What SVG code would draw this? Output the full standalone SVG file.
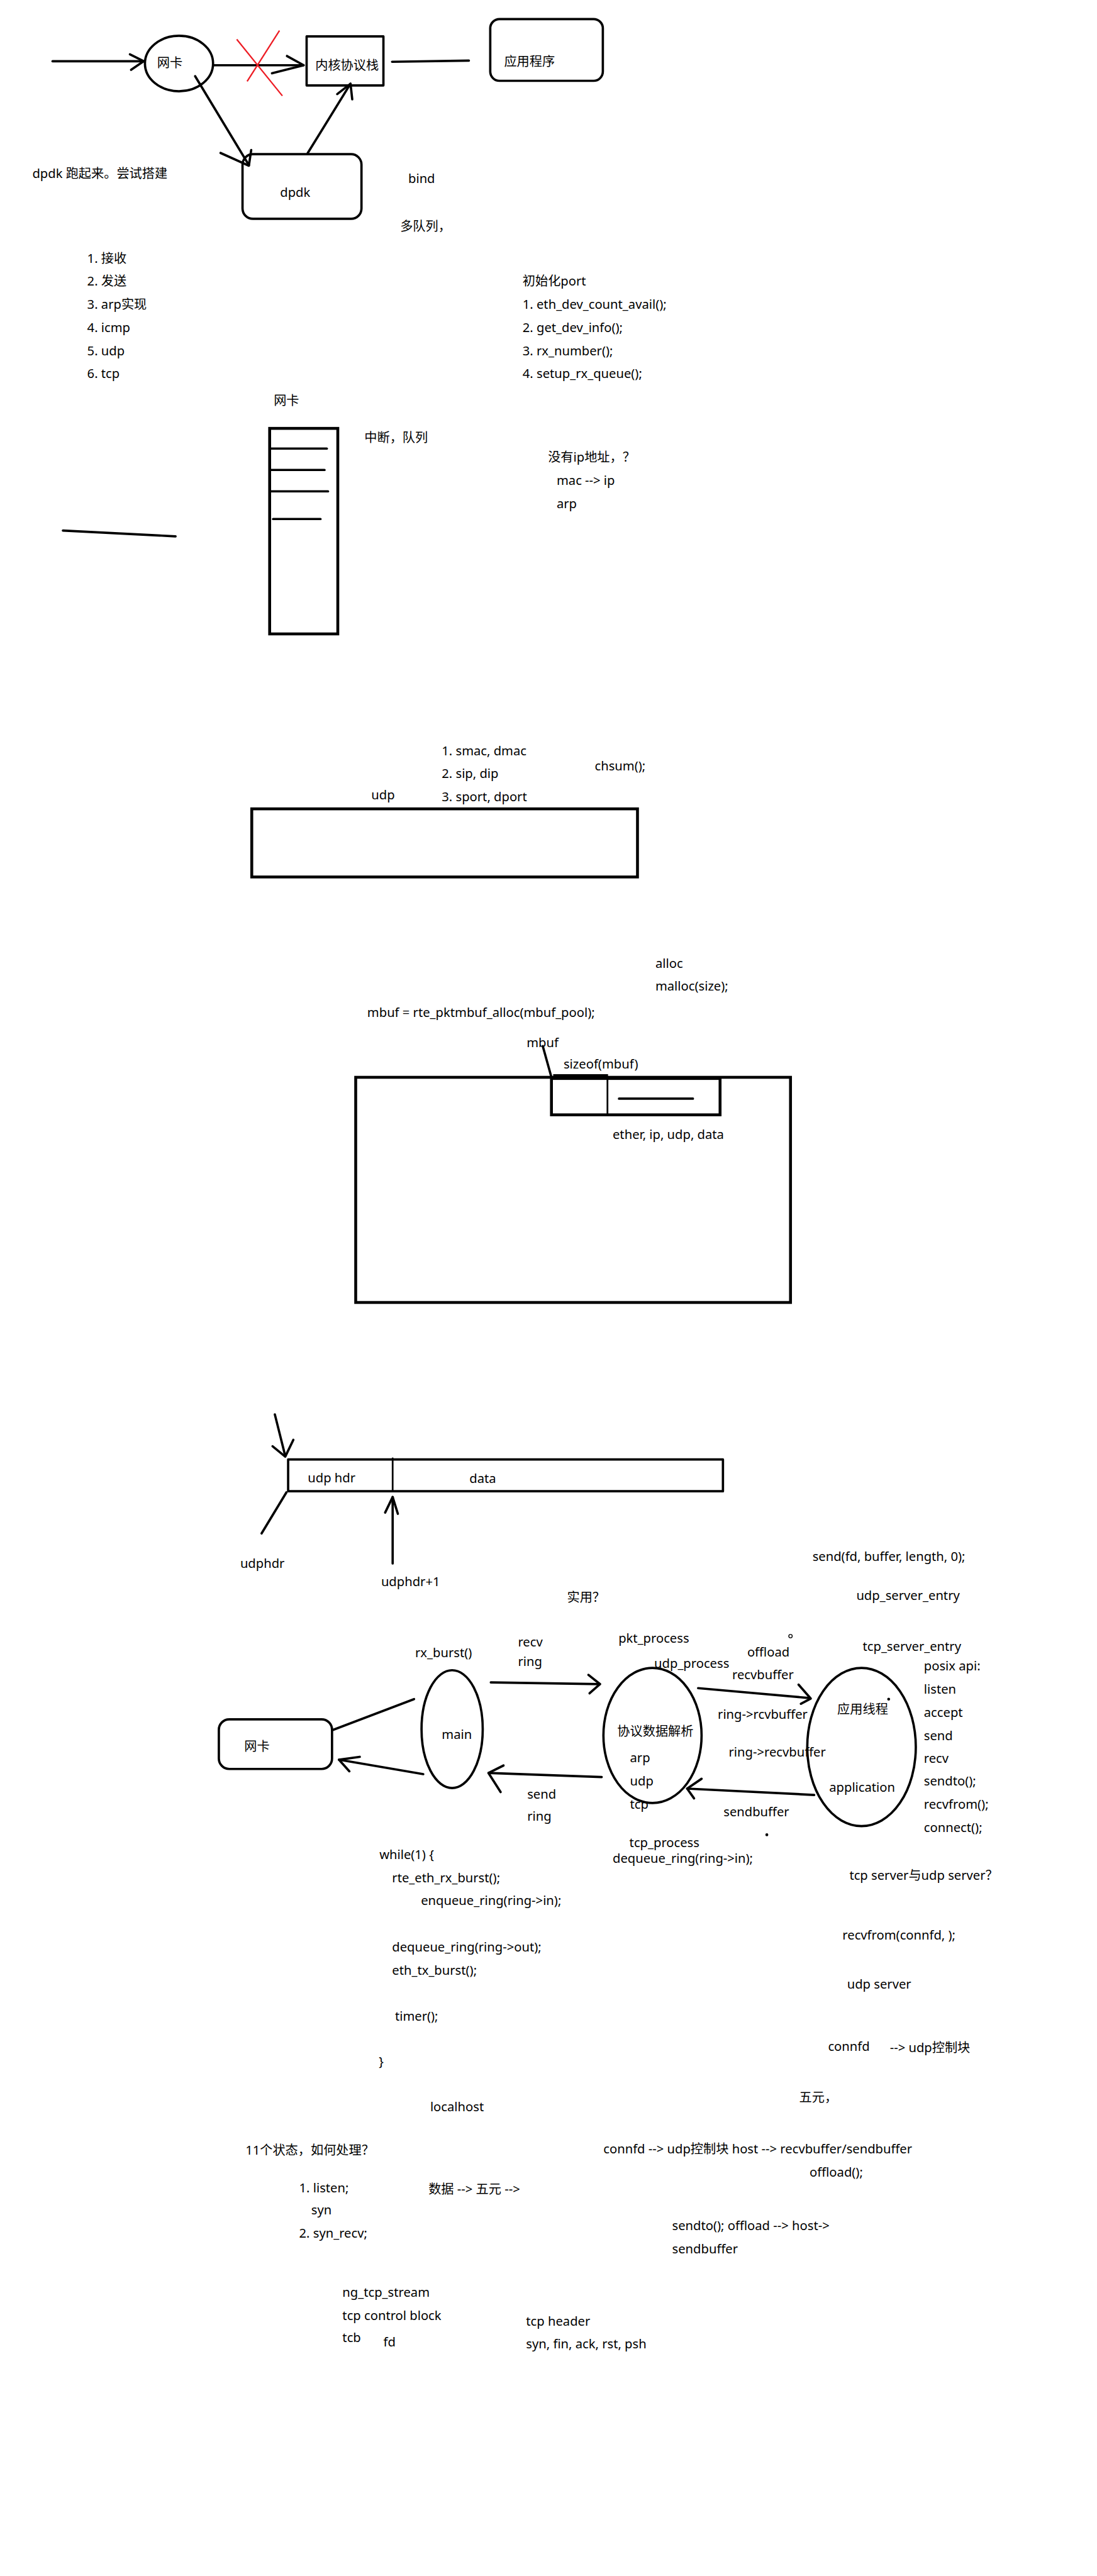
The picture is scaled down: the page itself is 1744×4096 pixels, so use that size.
<svg xmlns="http://www.w3.org/2000/svg" width="1744" height="4096" viewBox="0 0 1744 4096">
<style>
.t{font-family:"Noto Sans","Noto Sans CJK SC",sans-serif;font-size:22px;fill:#000}
.s{fill:none;stroke:#000;stroke-width:4;stroke-linecap:round;stroke-linejoin:round}
.b{fill:none;stroke:#000;stroke-width:5}
.th{fill:none;stroke:#000;stroke-width:3;stroke-linecap:round}
.red{fill:none;stroke:#ed1c24;stroke-width:2.5}
.dot{fill:#000}
</style>
<rect width="1744" height="4096" fill="#fff"/>
<g transform="scale(0.918)">

<!-- ===== Section 1: overview ===== -->
<g id="nic1"><ellipse class="s" cx="310" cy="110" rx="59" ry="48"/><text class="t" x="272" y="117">网卡</text></g>
<g id="kernel-stack"><rect class="s" x="531" y="63" width="133" height="85"/><text class="t" x="546" y="121">内核协议栈</text></g>
<g id="app-program"><rect class="s" x="849" y="33" width="195" height="107" rx="16"/><text class="t" x="873" y="114">应用程序</text></g>
<g id="dpdk"><rect class="s" x="420" y="267" width="206" height="112" rx="18"/><text class="t" x="485" y="341">dpdk</text></g>

<g id="connectors">
  <!-- section 1 -->
  <line class="s" x1="91" y1="106" x2="249" y2="106"/>
  <polyline class="s" points="225,94 249,106 227,121"/>
  <line class="s" x1="370" y1="113" x2="525" y2="113"/>
  <polyline class="s" points="497,97 526,113 471,127"/>
  <line class="s" x1="679" y1="107" x2="812" y2="105"/>
  <line class="s" x1="338" y1="132" x2="431" y2="286"/>
  <polyline class="s" points="382,265 431,287 435,260"/>
  <line class="s" x1="533" y1="265" x2="607" y2="145"/>
  <polyline class="s" points="584,163 607,145 610,172"/>
  <!-- section 6 -->
  <line class="s" x1="476" y1="2450" x2="494" y2="2522"/>
  <polyline class="s" points="472,2505 494,2523 508,2494"/>
  <line class="s" x1="496" y1="2585" x2="453" y2="2656"/>
  <line class="s" x1="680" y1="2708" x2="680" y2="2593"/>
  <polyline class="s" points="667,2620 680,2593 689,2622"/>
  <!-- section 7 -->
  <line class="s" x1="717" y1="2943" x2="575" y2="2997"/>
  <line class="s" x1="733" y1="3073" x2="587" y2="3048"/>
  <polyline class="s" points="623,3043 587,3048 605,3068"/>
  <line class="s" x1="850" y1="2914" x2="1039" y2="2917"/>
  <polyline class="s" points="1019,2901 1039,2917 1021,2933"/>
  <line class="s" x1="1042" y1="3078" x2="846" y2="3071"/>
  <polyline class="s" points="872,3058 846,3071 867,3104"/>
  <line class="s" x1="1209" y1="2924" x2="1400" y2="2941"/>
  <polyline class="s" points="1383,2918 1404,2942 1387,2951"/>
  <line class="s" x1="1410" y1="3109" x2="1190" y2="3098"/>
  <polyline class="s" points="1215,3081 1190,3098 1202,3115"/>
</g>

<g id="red-cross">
  <line class="red" x1="410" y1="68" x2="489" y2="166"/>
  <line class="red" x1="484" y1="53" x2="428" y2="141"/>
</g>

<g id="notes-1">
  <text class="t" x="56" y="308">dpdk 跑起来。尝试搭建</text>
  <text class="t" x="707" y="317">bind</text>
  <text class="t" x="693" y="400">多队列，</text>
  <text class="t" x="151" y="455">1. 接收</text>
  <text class="t" x="151" y="495">2. 发送</text>
  <text class="t" x="151" y="535">3. arp实现</text>
  <text class="t" x="151" y="575">4. icmp</text>
  <text class="t" x="151" y="615">5. udp</text>
  <text class="t" x="151" y="655">6. tcp</text>
  <text class="t" x="905" y="495">初始化port</text>
  <text class="t" x="905" y="535">1. eth_dev_count_avail();</text>
  <text class="t" x="905" y="575">2. get_dev_info();</text>
  <text class="t" x="905" y="615">3. rx_number();</text>
  <text class="t" x="905" y="655">4. setup_rx_queue();</text>
</g>

<!-- ===== Section 3: NIC queue ===== -->
<g id="nic-queue">
  <text class="t" x="474" y="701">网卡</text>
  <rect class="b" x="467" y="742" width="118" height="356"/>
  <line class="s" x1="469" y1="777" x2="566" y2="777"/>
  <line class="s" x1="469" y1="814" x2="562" y2="814"/>
  <line class="s" x1="469" y1="851" x2="568" y2="851"/>
  <line class="s" x1="473" y1="899" x2="555" y2="899"/>
</g>
<g id="notes-3">
  <line class="s" x1="109" y1="919" x2="304" y2="929"/>
  <text class="t" x="631" y="766">中断，队列</text>
  <text class="t" x="949" y="800">没有ip地址，？</text>
  <text class="t" x="964" y="840">mac --&gt; ip</text>
  <text class="t" x="964" y="880">arp</text>
</g>

<!-- ===== Section 4: udp ===== -->
<g id="udp-packet">
  <rect class="b" x="436" y="1401" width="668" height="118"/>
  <text class="t" x="643" y="1385">udp</text>
</g>
<g id="notes-4">
  <text class="t" x="765" y="1308">1. smac, dmac</text>
  <text class="t" x="765" y="1348">2. sip, dip</text>
  <text class="t" x="765" y="1388">3. sport, dport</text>
  <text class="t" x="1030" y="1334">chsum();</text>
</g>

<!-- ===== Section 5: mbuf ===== -->
<g id="mbuf-pool">
  <rect class="b" x="616" y="1866" width="753" height="390"/>
</g>
<g id="mbuf">
  <rect class="b" x="955" y="1868" width="292" height="63"/>
  <line class="b" x1="958" y1="1863" x2="1053" y2="1863"/>
  <line class="th" x1="1052" y1="1868" x2="1052" y2="1931"/>
  <line class="s" x1="1072" y1="1903" x2="1200" y2="1903"/>
  <line class="s" x1="940" y1="1812" x2="955" y2="1866"/>
  <text class="t" x="912" y="1814">mbuf</text>
  <text class="t" x="976" y="1851">sizeof(mbuf)</text>
  <text class="t" x="1061" y="1973">ether, ip, udp, data</text>
</g>
<g id="notes-5">
  <text class="t" x="1135" y="1677">alloc</text>
  <text class="t" x="1135" y="1716">malloc(size);</text>
  <text class="t" x="636" y="1761">mbuf = rte_pktmbuf_alloc(mbuf_pool);</text>
</g>

<!-- ===== Section 6: udp hdr ===== -->
<g id="udp-hdr-data">
  <rect class="s" x="499" y="2528" width="753" height="55"/>
  <line class="th" x1="680" y1="2526" x2="680" y2="2583"/>
  <text class="t" x="533" y="2567">udp hdr</text>
  <text class="t" x="813" y="2569">data</text>
</g>
<g id="notes-6">
  <text class="t" x="416" y="2716">udphdr</text>
  <text class="t" x="660" y="2747">udphdr+1</text>
  <text class="t" x="982" y="2775">实用？</text>
</g>

<!-- ===== Section 7: flow ===== -->
<g id="nic2"><rect class="s" x="379" y="2978" width="196" height="86" rx="18"/><text class="t" x="423" y="3033">网卡</text></g>
<g id="main"><ellipse class="s" cx="783" cy="2995" rx="53" ry="102"/><text class="t" x="765" y="3012">main</text></g>
<g id="protocol-parse">
  <ellipse class="s" cx="1130" cy="3006" rx="85" ry="117"/>
  <text class="t" x="1069" y="3006">协议数据解析</text>
  <text class="t" x="1091" y="3052">arp</text>
  <text class="t" x="1091" y="3093">udp</text>
  <text class="t" x="1091" y="3133">tcp</text>
</g>
<g id="app-thread">
  <text class="t" x="1243" y="2977">ring-&gt;rcvbuffer</text>
  <text class="t" x="1262" y="3043">ring-&gt;recvbuffer</text>
  <ellipse class="s" cx="1492" cy="3026" rx="94" ry="137"/>
  <text class="t" x="1450" y="2968">应用线程</text>
  <text class="t" x="1436" y="3104">application</text>
</g>
<g id="notes-7">
  <text class="t" x="719" y="2870">rx_burst()</text>
  <text class="t" x="897" y="2852">recv</text>
  <text class="t" x="897" y="2886">ring</text>
  <text class="t" x="913" y="3116">send</text>
  <text class="t" x="913" y="3154">ring</text>
  <text class="t" x="1071" y="2845">pkt_process</text>
  <text class="t" x="1133" y="2889">udp_process</text>
  <text class="t" x="1090" y="3199">tcp_process</text>
  <text class="t" x="1061" y="3227">dequeue_ring(ring-&gt;in);</text>
  <text class="t" x="1294" y="2869">offload</text>
  <text class="t" x="1268" y="2908">recvbuffer</text>
  <text class="t" x="1253" y="3146">sendbuffer</text>
  <text class="t" x="1407" y="2704">send(fd, buffer, length, 0);</text>
  <text class="t" x="1483" y="2771">udp_server_entry</text>
  <text class="t" x="1494" y="2860">tcp_server_entry</text>
  <text class="t" x="1600" y="2893">posix api:</text>
  <text class="t" x="1600" y="2934">listen</text>
  <text class="t" x="1600" y="2974">accept</text>
  <text class="t" x="1600" y="3014">send</text>
  <text class="t" x="1600" y="3053">recv</text>
  <text class="t" x="1600" y="3093">sendto();</text>
  <text class="t" x="1600" y="3133">recvfrom();</text>
  <text class="t" x="1600" y="3173">connect();</text>
  <text class="t" x="1471" y="3256">tcp server与udp server？</text>
  <circle cx="1369" cy="2834" r="3" fill="none" stroke="#000" stroke-width="1.5"/>
  <circle class="dot" cx="1539" cy="2943" r="2.5"/>
  <circle class="dot" cx="1328" cy="3178" r="2.5"/>
</g>

<!-- ===== Section 9/10: notes ===== -->
<g id="notes-9">
  <text class="t" x="657" y="3220">while(1) {</text>
  <text class="t" x="679" y="3260">rte_eth_rx_burst();</text>
  <text class="t" x="729" y="3300">enqueue_ring(ring-&gt;in);</text>
  <text class="t" x="679" y="3380">dequeue_ring(ring-&gt;out);</text>
  <text class="t" x="679" y="3420">eth_tx_burst();</text>
  <text class="t" x="684" y="3500">timer();</text>
  <text class="t" x="656" y="3578">}</text>
  <text class="t" x="745" y="3657">localhost</text>
  <text class="t" x="1459" y="3360">recvfrom(connfd, );</text>
  <text class="t" x="1467" y="3444">udp server</text>
  <text class="t" x="1434" y="3552">connfd</text>
  <text class="t" x="1541" y="3555">--&gt; udp控制块</text>
  <text class="t" x="1384" y="3640">五元，</text>
</g>
<g id="notes-10">
  <text class="t" x="425" y="3732">11个状态，如何处理？</text>
  <text class="t" x="1045" y="3730">connfd --&gt; udp控制块 host --&gt; recvbuffer/sendbuffer</text>
  <text class="t" x="1402" y="3770">offload();</text>
  <text class="t" x="518" y="3797">1. listen;</text>
  <text class="t" x="742" y="3800">数据 --&gt; 五元 --&gt;</text>
  <text class="t" x="539" y="3835">syn</text>
  <text class="t" x="518" y="3876">2. syn_recv;</text>
  <text class="t" x="1164" y="3863">sendto(); offload --&gt; host-&gt;</text>
  <text class="t" x="1164" y="3903">sendbuffer</text>
  <text class="t" x="593" y="3978">ng_tcp_stream</text>
  <text class="t" x="593" y="4018">tcp control block</text>
  <text class="t" x="593" y="4057">tcb</text>
  <text class="t" x="664" y="4064">fd</text>
  <text class="t" x="911" y="4028">tcp header</text>
  <text class="t" x="911" y="4067">syn, fin, ack, rst, psh</text>
</g>
</g>
</svg>
